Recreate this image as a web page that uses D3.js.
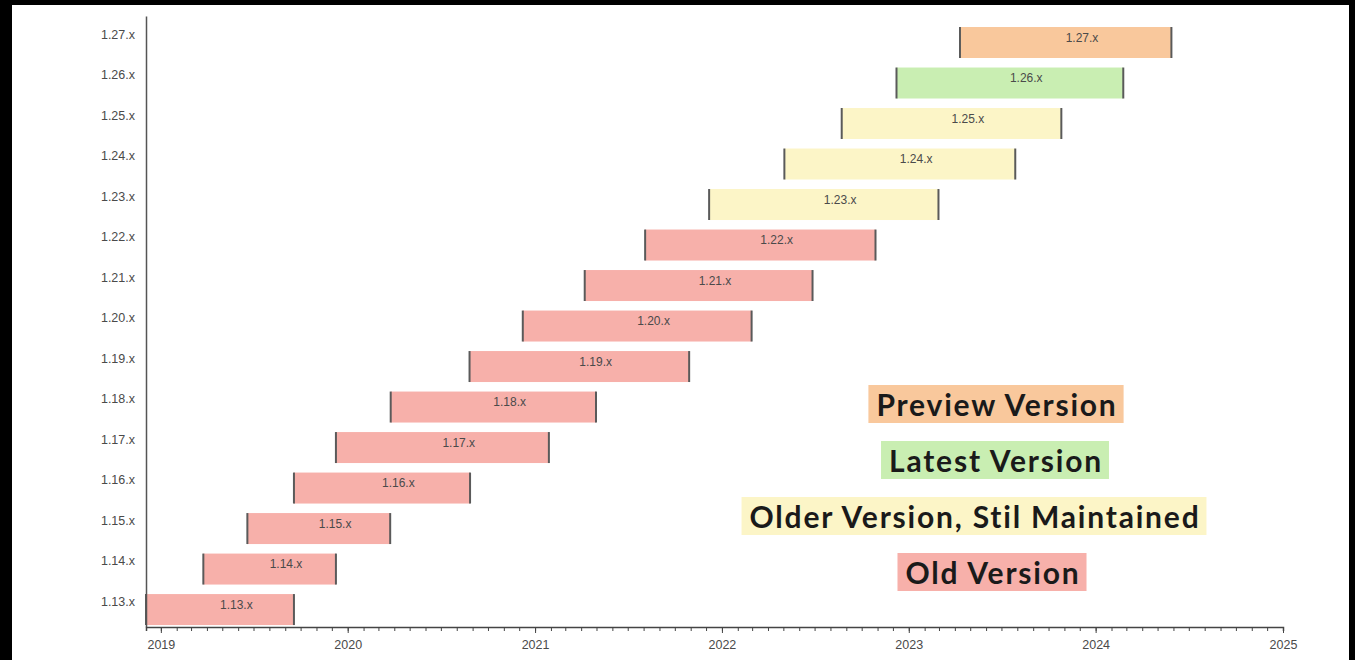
<!DOCTYPE html>
<html>
<head>
<meta charset="utf-8">
<script src="https://cdn.jsdelivr.net/npm/d3@7"></script>
<style>
    html, body { margin: 0; padding: 0; background: #000; }
    #chart { width: 1355px; height: 660px; }
    text { font-family: "Liberation Sans", Arial, sans-serif; }
</style>
</head>
<body>
<div id="chart"></div>
<script>
(function () {
    'use strict';
    var width = 1355;
    var height = 660;

    // versions, bottom to top
    var versions = ['1.13.x', '1.14.x', '1.15.x', '1.16.x', '1.17.x', '1.18.x', '1.19.x',
        '1.20.x', '1.21.x', '1.22.x', '1.23.x', '1.24.x', '1.25.x', '1.26.x', '1.27.x'];
    var startDates = ['2018-12-03', '2019-03-25', '2019-06-19', '2019-09-18', '2019-12-09',
        '2020-03-25', '2020-08-26', '2020-12-08', '2021-04-08', '2021-08-04', '2021-12-07',
        '2022-05-03', '2022-08-23', '2022-12-08', '2023-04-11'];
    var endDates = ['2019-09-18', '2019-12-09', '2020-03-24', '2020-08-27', '2021-01-28',
        '2021-04-30', '2021-10-29', '2022-02-28', '2022-06-27', '2022-10-28', '2023-02-28',
        '2023-07-28', '2023-10-26', '2024-02-24', '2024-05-28'];
    var status = ['old', 'old', 'old', 'old', 'old', 'old', 'old', 'old', 'old', 'old',
        'older', 'older', 'older', 'latest', 'preview'];

    var legendKeys = ['preview', 'latest', 'older', 'old'];
    var legendLabels = ['Preview Version', 'Latest Version', 'Older Version, Stil Maintained', 'Old Version'];
    var colors = { preview: '#f9c89c', latest: '#c9eeb2', older: '#fcf5c7', old: '#f7b0aa' };

    var parse = d3.timeParse('%Y-%m-%d');
    var rows = versions.map(function (v, i) {
        return { name: v, start: parse(startDates[i]), end: parse(endDates[i]), status: status[i] };
    });

    var svg = d3.select('#chart').append('svg')
        .attr('width', width)
        .attr('height', height);

    // white sheet inside the black frame
    svg.append('rect')
        .attr('x', 12).attr('y', 5)
        .attr('width', 1337).attr('height', 660)
        .attr('fill', '#fff');

    var x = d3.scaleTime()
        .domain([parse('2018-12-03'), parse('2025-01-01')])
        .range([146, 1283]);
    var y = d3.scaleBand()
        .domain(versions.slice().reverse())
        .range([16, 627])
        .paddingInner(0.235)
        .paddingOuter(0.16)
        .align(0.85);

    // bars
    var bars = svg.append('g').selectAll('g').data(rows).enter().append('g');
    bars.append('rect')
        .attr('x', function (d) { return x(d.start); })
        .attr('y', function (d) { return y(d.name); })
        .attr('width', function (d) { return x(d.end) - x(d.start); })
        .attr('height', y.bandwidth())
        .attr('fill', function (d) { return colors[d.status]; });
    bars.selectAll('line')
        .data(function (d) { return [d.start, d.end].map(function (t) { return { t: t, name: d.name }; }); })
        .enter().append('line')
        .attr('x1', function (d) { return x(d.t); })
        .attr('x2', function (d) { return x(d.t); })
        .attr('y1', function (d) { return y(d.name); })
        .attr('y2', function (d) { return y(d.name) + y.bandwidth(); })
        .attr('stroke', '#5a5a5a')
        .attr('stroke-width', 2);
    bars.append('text')
        .attr('x', function (d) { return (x(d.start) + x(d.end)) / 2; })
        .attr('y', function (d) { return y(d.name) + y.bandwidth() / 2 - 5; })
        .attr('dy', '0.35em')
        .attr('font-size', 12)
        .attr('fill', '#4a4a4a')
        .text(function (d) { return d.name; });

    // axes
    var yAxis = svg.append('g')
        .attr('transform', 'translate(146,0)')
        .call(d3.axisLeft(y).tickSize(0).tickPadding(11));
    yAxis.select('.domain').attr('stroke', '#555').attr('stroke-width', 1.5);
    yAxis.selectAll('text')
        .attr('y', -8)
        .attr('font-size', 12.5)
        .attr('fill', '#4a4a4a')
        .style('font-family', '"Liberation Sans", Arial, sans-serif');

    var xMinor = svg.append('g')
        .attr('transform', 'translate(0,627)')
        .call(d3.axisBottom(x).ticks(d3.timeMonth.every(1)).tickSize(4).tickFormat(''));
    xMinor.select('.domain').attr('stroke', '#444').attr('stroke-width', 1.5);
    xMinor.selectAll('.tick line').attr('stroke', '#444');

    var xMajor = svg.append('g')
        .attr('transform', 'translate(0,627)')
        .call(d3.axisBottom(x).ticks(d3.timeYear.every(1)).tickSize(6).tickPadding(7).tickFormat(d3.timeFormat('%Y')));
    xMajor.select('.domain').remove();
    xMajor.selectAll('.tick line').attr('stroke', '#444');
    xMajor.selectAll('text')
        .attr('font-size', 12.5)
        .attr('fill', '#4a4a4a')
        .style('font-family', '"Liberation Sans", Arial, sans-serif');

    // legend
    var legendX = [997, 996, 975, 993];
    var legend = svg.append('g').selectAll('g').data(legendKeys).enter().append('g')
        .attr('transform', function (d, i) { return 'translate(' + legendX[i] + ',' + (416 + i * 56) + ')'; });
    legend.append('rect').attr('class', 'bg');
    legend.append('text')
        .attr('text-anchor', 'middle')
        .style('font-family', 'Lato, "Open Sans", sans-serif')
        .style('letter-spacing', '1.8px')
        .attr('font-weight', 'bold')
        .attr('font-size', 30)
        .attr('fill', '#1a1a1a')
        .text(function (d, i) { return legendLabels[i]; });
    legend.each(function (d) {
        var g = d3.select(this);
        var bb = g.select('text').node().getBBox();
        g.select('rect')
            .attr('x', bb.x - 8)
            .attr('y', -31)
            .attr('width', bb.width + 14)
            .attr('height', 38)
            .attr('fill', colors[d]);
    });
}());
</script>
</body>
</html>
